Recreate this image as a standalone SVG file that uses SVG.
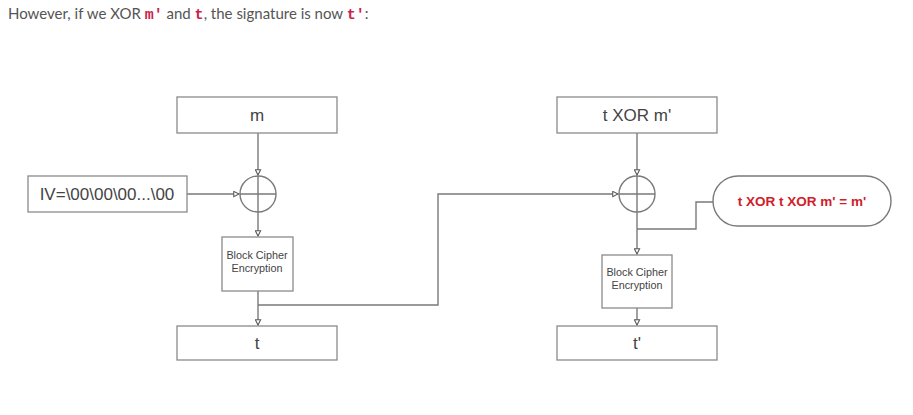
<svg xmlns="http://www.w3.org/2000/svg" width="913" height="415" viewBox="0 0 913 415">
<defs>
<style>
.box{fill:#fff;stroke:#8a8a8a;stroke-width:1.3}
.ln{fill:none;stroke:#7a7a7a;stroke-width:1.4}
.lbl{font-family:"Liberation Sans",Arial,sans-serif;font-size:17px;fill:#444;text-anchor:middle}
.sm{font-family:"Liberation Sans",Arial,sans-serif;font-size:10.8px;fill:#444;text-anchor:middle}
.hdr{font-family:Lato,"Open Sans",sans-serif;font-size:15px;fill:#555}
.code{font-family:"Liberation Mono","DejaVu Sans Mono",monospace;font-size:15px;fill:#c7254e;font-weight:bold}
</style>
<marker id="ah" viewBox="0 0 8 8" refX="7" refY="4" markerWidth="7" markerHeight="7" orient="auto" markerUnits="userSpaceOnUse">
<path d="M1,1 L7,4 L1,7 Z" fill="#fff" stroke="#555" stroke-width="1.2"/>
</marker>
</defs>
<rect width="913" height="415" fill="#fff"/>
<text class="hdr" x="8" y="19">However, if we XOR <tspan class="code">m'</tspan> and <tspan class="code">t</tspan>, the signature is now <tspan class="code">t'</tspan>:</text>

<g id="connectors">
<path class="ln" d="M258,133 V175" marker-end="url(#ah)"/>
<path class="ln" d="M187,194 H239" marker-end="url(#ah)"/>
<path class="ln" d="M258,212 V236" marker-end="url(#ah)"/>
<path class="ln" d="M258,291 V325" marker-end="url(#ah)"/>
<path class="ln" d="M258,305 H438 V194 H618" marker-end="url(#ah)"/>
<path class="ln" d="M637,133 V175" marker-end="url(#ah)"/>
<path class="ln" d="M637,212 V254" marker-end="url(#ah)"/>
<path class="ln" d="M637,308 V325" marker-end="url(#ah)"/>
<path class="ln" d="M637,229 H696 V202 H713"/>
</g>

<g id="m"><rect class="box" x="177" y="97" width="160" height="36"/><text class="lbl" x="257" y="121">m</text></g>
<g id="iv"><rect class="box" x="28" y="176" width="159" height="36"/><text class="lbl" x="107" y="200">IV=\00\00\00...\00</text></g>
<g id="xor1"><circle cx="258" cy="194" r="18" fill="none" stroke="#7a7a7a" stroke-width="1.4"/><path class="ln" d="M240,194 H276 M258,176 V212"/></g>
<g id="bc1"><rect class="box" x="222" y="237" width="71" height="54"/><text class="sm" x="257" y="259">Block Cipher</text><text class="sm" x="257" y="272">Encryption</text></g>
<g id="t"><rect class="box" x="177" y="326" width="160" height="34"/><text class="lbl" x="257" y="349">t</text></g>

<g id="txorm"><rect class="box" x="557" y="97" width="160" height="36"/><text class="lbl" x="637" y="121">t XOR m'</text></g>
<g id="xor2"><circle cx="637" cy="194" r="18" fill="none" stroke="#7a7a7a" stroke-width="1.4"/><path class="ln" d="M619,194 H655 M637,176 V212"/></g>
<g id="bc2"><rect class="box" x="602" y="255" width="70" height="53"/><text class="sm" x="637" y="276">Block Cipher</text><text class="sm" x="637" y="289">Encryption</text></g>
<g id="tp"><rect class="box" x="557" y="326" width="160" height="34"/><text class="lbl" x="637" y="349">t'</text></g>
<g id="note"><rect x="713" y="176" width="178" height="50" rx="25" ry="25" fill="#fff" stroke="#7a7a7a" stroke-width="1.4"/><text x="802" y="206" font-family="'Liberation Sans',Arial,sans-serif" font-size="13.5" font-weight="bold" fill="#d0202a" text-anchor="middle">t XOR t XOR m' = m'</text></g>
</svg>
